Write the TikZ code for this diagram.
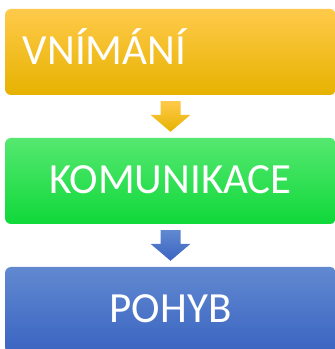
\documentclass[tikz,border=0pt]{standalone}
\usepackage{fontspec}
\setmainfont{Carlito}
\usetikzlibrary{calc}

\definecolor{ylwtop}{HTML}{FFCA4A}
\definecolor{ylwmid}{HTML}{FFC300}
\definecolor{ylwbot}{HTML}{E6B200}
\definecolor{grntop}{HTML}{55E870}
\definecolor{grnmid}{HTML}{2EE050}
\definecolor{grnbot}{HTML}{10D83A}
\definecolor{blutop}{HTML}{6189D0}
\definecolor{blumid}{HTML}{4A74C8}
\definecolor{blubot}{HTML}{3A64C2}

% block arrow between two boxes
\newcommand{\blockarrow}[3]{%
\shade[#3] ($(#1.south)+(-10,-6)$) -- ($(#1.south)+(10,-6)$)
  -- ($(#2.north)+(10,23)$) -- ($(#2.north)+(20,23)$)
  -- ($(#2.north)+(0,6)$)
  -- ($(#2.north)+(-20,23)$) -- ($(#2.north)+(-10,23)$) -- cycle;}

\begin{document}
\begin{tikzpicture}[x=1pt,y=1pt]
\tikzstyle{box}=[rounded corners=6pt, minimum width=331pt, minimum height=86pt,
  inner sep=0pt, text=white, font=\fontsize{43}{43}\selectfont,
  text height=27.7pt, text depth=3.5pt]
\useasboundingbox (0,0) rectangle (335,349);
\node [box, top color=ylwtop, middle color=ylwmid, bottom color=ylwbot,
  text width=295pt, align=left] (vnimani) at (170.5,297) {VNÍMÁNÍ};
\node [box, top color=grntop, middle color=grnmid, bottom color=grnbot] (komunikace) at (170.5,168) {KOMUNIKACE};
\node [box, top color=blutop, middle color=blumid, bottom color=blubot] (pohyb) at (170.5,39) {POHYB};
\blockarrow{vnimani}{komunikace}{top color=ylwtop, bottom color=ylwbot}
\blockarrow{komunikace}{pohyb}{top color=blutop, bottom color=blubot}
\end{tikzpicture}
\end{document}
